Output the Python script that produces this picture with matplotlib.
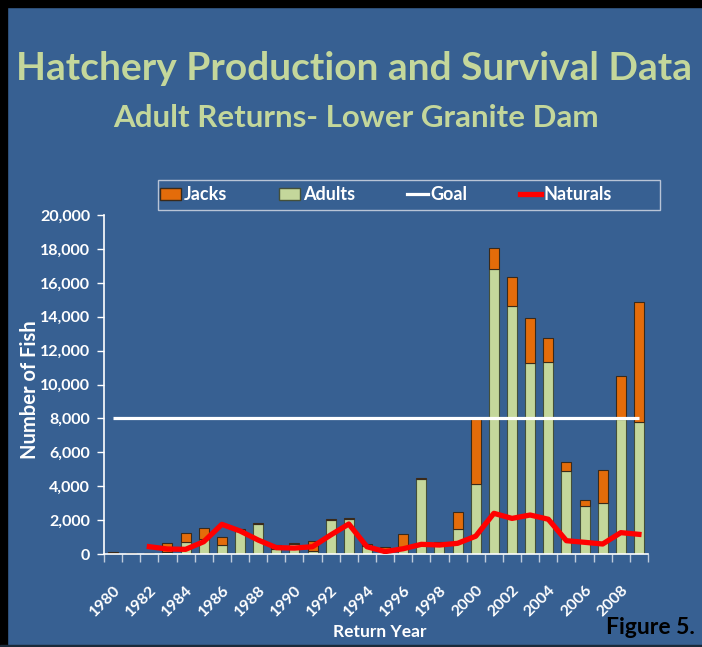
import numpy as np
import matplotlib
matplotlib.use("Agg")
import matplotlib.pyplot as plt
import matplotlib.transforms as mtransforms
from matplotlib.patches import Rectangle, Patch
from matplotlib.lines import Line2D
from matplotlib.ticker import FuncFormatter, FixedLocator

years = list(range(1980, 2010))
adults = [30, 50, 40, 100, 690, 885, 510, 1350, 1760, 300, 590, 200, 1980, 2080, 450,
          250, 400, 4400, 650, 1460, 4110, 16800, 14620, 11250, 11350, 4900, 2810, 2990, 7950, 7770]
jacks = [100, 10, 20, 530, 530, 635, 475, 110, 50, 260, 40, 570, 85, 60, 140,
         150, 760, 70, 40, 1040, 3840, 1240, 1710, 2650, 1380, 550, 360, 1950, 2570, 7080]
goal = [8000] * 30
naturals = [np.nan, np.nan, 430, 295, 275, 725, 1750, 1360, 825, 375, 350, 430, 1120, 1770, 430,
            140, 310, 570, 530, 630, 1050, 2400, 2100, 2300, 2050, 785, 690, 590, 1260, 1160]
tick_years = [str(y) for y in range(1980, 2010, 2)]

BG = '#376092'
GREEN = '#C4D79B'
ORANGE = '#E46C0A'
FONT = ['Lato', 'DejaVu Sans']
plt.rcParams['font.family'] = FONT
plt.rcParams['font.weight'] = 'bold'

W, H = 702, 647
fig = plt.figure(figsize=(W / 100, H / 100), dpi=100)
fig.patch.set_facecolor(BG)

# frame bands
fig.patches.append(Rectangle((0, 1 - 7 / H), 1, 7 / H, transform=fig.transFigure, color='black', zorder=0))
fig.patches.append(Rectangle((0, 0), 7 / W, 1, transform=fig.transFigure, color='black', zorder=0))
fig.patches.append(Rectangle((0, 0), 1, 2 / H, transform=fig.transFigure, color='#1a2a3a', zorder=0))

ax = fig.add_axes([104 / W, 1 - 554 / H, 544 / W, 339 / H])
ax.set_facecolor(BG)

x = np.arange(len(years))
ax.bar(x, adults, width=0.55, color=GREEN, edgecolor='#44503a', linewidth=0.8, zorder=2)
ax.bar(x, jacks, width=0.55, bottom=adults, color=ORANGE, edgecolor='#3a2a1a', linewidth=0.8, zorder=2)
ax.plot(x, goal, color='white', lw=2.3, zorder=3, solid_capstyle='butt')
ax.plot(x, naturals, color='#FF0000', lw=3.8, zorder=4)

ax.set_xlim(-0.5, len(years) - 0.5)
ax.set_ylim(0, 20000)
ax.set_yticks(np.arange(0, 20001, 2000))
ax.yaxis.set_major_formatter(FuncFormatter(lambda v, p: f"{int(v):,}"))
ax.tick_params(axis='y', colors='white', length=5, width=1, pad=5, labelsize=11.5)
for lab in ax.get_yticklabels():
    lab.set_fontweight('bold')

ax.set_xticks(x[::2])
ax.set_xticklabels(tick_years, rotation=45, ha='right', va='top', rotation_mode='anchor',
                   fontsize=11.5, fontweight='bold', color='white')
shift = mtransforms.ScaledTranslation(-3 / 100, 0, fig.dpi_scale_trans)
for lab in ax.get_xticklabels():
    lab.set_transform(lab.get_transform() + shift)
ax.xaxis.set_minor_locator(FixedLocator(np.arange(-0.5, len(years), 1)))
ax.tick_params(axis='x', which='major', length=0, pad=21)
ax.tick_params(axis='x', which='minor', length=6, color='#c0ccdc', width=1)

for s in ['top', 'right']:
    ax.spines[s].set_visible(False)
for s in ['left', 'bottom']:
    ax.spines[s].set_color('white')
    ax.spines[s].set_linewidth(1.2)

fig.text(30 / W, 1 - 390 / H, 'Number of Fish', rotation=90, ha='center', va='center',
         color='white', fontsize=14.5, fontweight='bold')
fig.text(380 / W, 1 - 632 / H, 'Return Year', ha='center', va='center',
         color='white', fontsize=12.5, fontweight='bold')
fig.text(650 / W, 1 - 628 / H, 'Figure 5.', ha='center', va='center',
         color='black', fontsize=16.5, fontweight='bold')

fig.text(354 / W, 1 - 69 / H, 'Hatchery Production and Survival Data', ha='center', va='center',
         color=GREEN, fontsize=28, fontweight='bold')
fig.text(356 / W, 1 - 118 / H, 'Adult Returns- Lower Granite Dam', ha='center', va='center',
         color=GREEN, fontsize=22.5, fontweight='bold')

# legend box
fig.patches.append(Rectangle((158 / W, 1 - 210 / H), 502 / W, 30 / H, transform=fig.transFigure,
                             facecolor='none', edgecolor='#b8c4d6', lw=1.0, zorder=1))
handles = [Patch(facecolor=ORANGE, edgecolor='#3a2a1a'),
           Patch(facecolor=GREEN, edgecolor='#44503a'),
           Line2D([], [], color='white', lw=2.3),
           Line2D([], [], color='#FF0000', lw=3.8)]
leg = fig.legend(handles, ['Jacks', 'Adults', 'Goal', 'Naturals'], loc='center left',
                 bbox_to_anchor=(160 / W, 1 - 195 / H), ncol=4,
                 frameon=False, handlelength=1.15, handletextpad=0.15, columnspacing=2.9,
                 borderaxespad=0, borderpad=0,
                 prop={'size': 13, 'weight': 'bold'})
for t in leg.get_texts():
    t.set_color('white')

fig.savefig('out.png', dpi=100, facecolor=BG)
